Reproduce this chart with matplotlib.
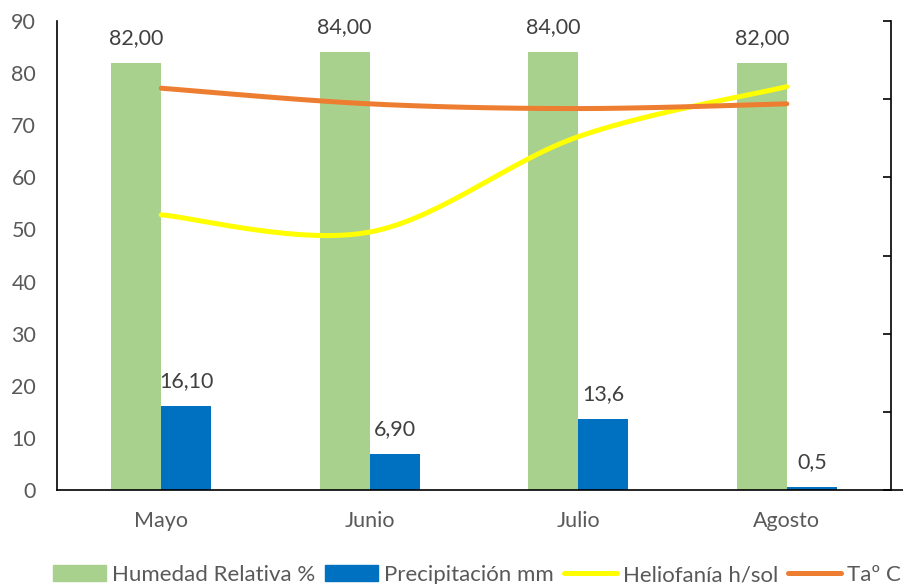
import numpy as np
import matplotlib
matplotlib.use("Agg")
import matplotlib.pyplot as plt
from matplotlib.lines import Line2D
from matplotlib.patches import Patch

plt.rcParams['font.family'] = ['Lato', 'DejaVu Sans']

meses = ['Mayo', 'Junio', 'Julio', 'Agosto']
humedad = [82.00, 84.00, 84.00, 82.00]
precipitacion = [16.10, 6.90, 13.6, 0.5]
humedad_lbl = ['82,00', '84,00', '84,00', '82,00']
precip_lbl = ['16,10', '6,90', '13,6', '0,5']
# eje secundario (etiquetas recortadas en el original)
heliofania = [17.6, 16.5, 22.6, 25.8]
temperatura = [25.7, 24.7, 24.4, 24.7]

c_green = '#A9D18E'
c_blue = '#0070C0'
c_yellow = '#FFFF00'
c_orange = '#ED7D31'
c_text = '#595959'


def smooth(y, n=40):
    # curva suavizada tipo Excel (Bezier con puntos de control Catmull-Rom)
    y = np.asarray(y, float)
    x = np.arange(len(y), dtype=float)
    pts = np.column_stack([x, y])
    ext = np.vstack([pts[0], pts, pts[-1]])
    out = []
    t = np.linspace(0, 1, n)[:, None]
    for i in range(len(pts) - 1):
        p0, p1, p2, p3 = ext[i], ext[i + 1], ext[i + 2], ext[i + 3]
        c1 = p1 + (p2 - p0) / 6
        c2 = p2 - (p3 - p1) / 6
        seg = ((1 - t) ** 3) * p1 + 3 * ((1 - t) ** 2) * t * c1 + 3 * (1 - t) * t ** 2 * c2 + t ** 3 * p2
        out.append(seg)
    s = np.vstack(out)
    return s[:, 0], s[:, 1]


fig = plt.figure(figsize=(9.04, 5.84), dpi=100)
ax = fig.add_axes([57 / 904, 94 / 584, 847 / 904, 469 / 584])
x = np.arange(len(meses))
w = 0.24

ax.bar(x - w / 2, humedad, w, color=c_green, zorder=2)
ax.bar(x + w / 2, precipitacion, w, color=c_blue, zorder=2)

for i in range(len(meses)):
    ax.annotate(humedad_lbl[i], (x[i] - w / 2, humedad[i]), xytext=(0, 18),
                textcoords='offset points', ha='center', va='center',
                fontsize=15.5, color='#404040')
    ax.annotate(precip_lbl[i], (x[i] + w / 2, precipitacion[i]), xytext=(0, 18),
                textcoords='offset points', ha='center', va='center',
                fontsize=15.5, color='#404040')

xmax = 3.5 + 13 / 208.5
ax.set_xlim(-0.5, xmax)
ax.set_ylim(0, 90)
ax.set_yticks(range(0, 91, 10))
ax.set_xticks(x)
ax.set_xticklabels(meses)
ax.tick_params(axis='both', length=0, labelsize=15.5, labelcolor=c_text)
ax.tick_params(axis='y', pad=15)
ax.tick_params(axis='x', pad=15)
for s in ['top', 'right']:
    ax.spines[s].set_visible(False)
ax.spines['left'].set_color('black')
ax.spines['left'].set_linewidth(1.2)
ax.spines['bottom'].set_color('black')
ax.spines['bottom'].set_linewidth(1.2)

ax2 = ax.twinx()
ax2.set_ylim(0, 30)
ax2.set_yticks(range(0, 31, 5))
ax2.tick_params(axis='y', direction='in', length=6, width=1.2, labelright=False)
for s in ['top', 'left', 'bottom']:
    ax2.spines[s].set_visible(False)
ax2.spines['right'].set_position(('data', 3.5))
ax2.spines['right'].set_color('black')
ax2.spines['right'].set_linewidth(1.2)

hx, hy = smooth(heliofania)
tx, ty = smooth(temperatura)
ax2.plot(hx, hy, color=c_yellow, lw=3.6, solid_capstyle='round', zorder=3)
ax2.plot(tx, ty, color=c_orange, lw=3.6, solid_capstyle='round', zorder=3)
ax2.set_xlim(-0.5, xmax)

handles = [Patch(color=c_green), Patch(color=c_blue),
           Line2D([], [], color=c_yellow, lw=3.6, solid_capstyle='round'),
           Line2D([], [], color=c_orange, lw=3.6, solid_capstyle='round')]
labels = ['Humedad Relativa %', 'Precipitación mm', 'Heliofanía h/sol', 'Taº C']
fig.legend(handles, labels, loc='center left', bbox_to_anchor=(53 / 904, 9 / 584),
           ncol=4, frameon=False, fontsize=16, labelcolor=c_text,
           handlelength=2.4, handleheight=0.7, handletextpad=0.25, columnspacing=0.45,
           borderaxespad=0, borderpad=0)

fig.savefig('out.png', dpi=100)
